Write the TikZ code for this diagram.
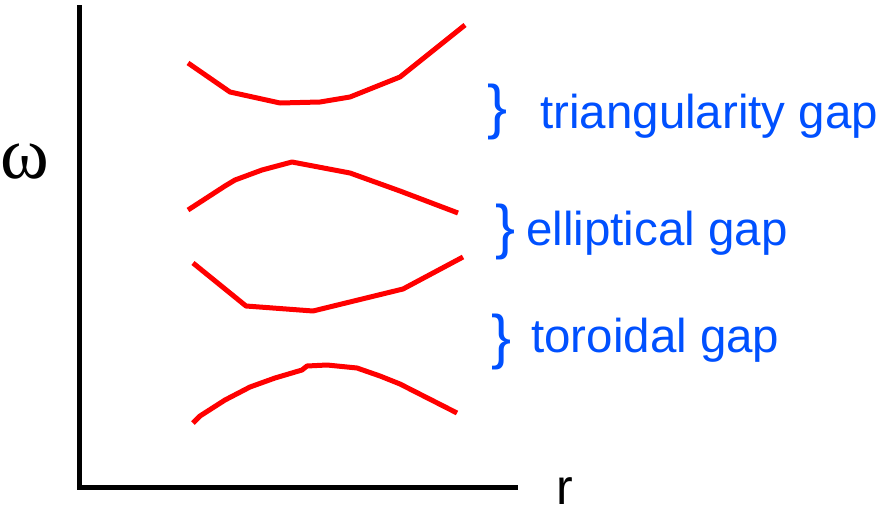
\documentclass[tikz,border=0pt]{standalone}
\usepackage{fontspec}
\setmainfont{Liberation Sans}
\newfontfamily\omegafont{Liberation Serif}
\usetikzlibrary{positioning}
\definecolor{gapblue}{RGB}{0,80,255}

\begin{document}
\begin{tikzpicture}[
  x=1pt,y=-1pt,
  axis/.style={draw=black,line width=5pt},
  band/.style={draw=red,line width=5pt,line join=round},
  gaplabel/.style={text=gapblue,anchor=base west,inner sep=0pt,font=\fontsize{47.5}{50}\selectfont},
  gapbrace/.style={text=gapblue,anchor=base west,inner sep=0pt,font=\fontsize{60}{64}\selectfont}
]
  \useasboundingbox (0,0) rectangle (879,506);
  % axes
  \coordinate (ytop) at (79,5);
  \coordinate (origin) at (79,487);
  \coordinate (xend) at (518,487);
  \draw[axis] (ytop) -- (origin) -- (xend);
  \node[anchor=base west,inner sep=0pt,font=\omegafont\fontsize{74}{76}\selectfont] (omega) at (0,178) {ω};
  \node[anchor=base west,inner sep=0pt,font=\fontsize{50}{54}\selectfont] (rlab) at (556,504) {r};
  % continuum bands
  \draw[band] (188,63) -- (230,92) -- (280,103) -- (320,102) -- (350,97) -- (400,77) -- (465,25);
  \draw[band] (188,210) -- (225,186) -- (235,180) -- (262,170) -- (292,162) -- (350,173) -- (400,191) -- (458,213);
  \draw[band] (193,263) -- (246,306) -- (313,311) -- (403,289) -- (463,257);
  \draw[band] (193,423) -- (200,416) -- (225,400) -- (250,387) -- (275,378) -- (302,370) -- (307,366) -- (327,365) -- (357,368) -- (380,376) -- (400,384) -- (457,413);
  % gap labels
  \node[gapbrace] (tribrace) at (487,127) {\}};
  \node[gaplabel] (trigap) at (540,128) {triangularity gap};
  \node[gapbrace] (ellbrace) at (495,247) {\}};
  \node[gaplabel] (ellgap) at (526,245) {elliptical gap};
  \node[gapbrace] (torbrace) at (491,357) {\}};
  \node[gaplabel] (torgap) at (531,352) {toroidal gap};
\end{tikzpicture}
\end{document}
